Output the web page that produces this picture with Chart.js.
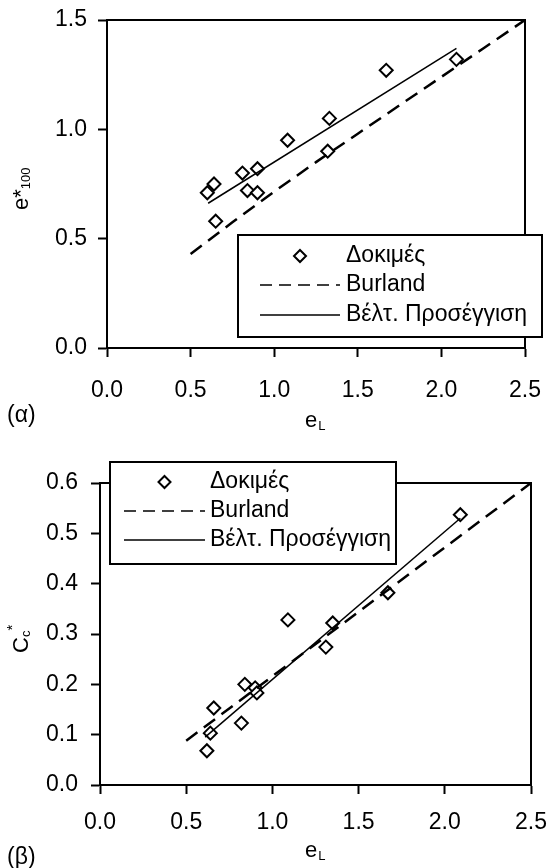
<!DOCTYPE html>
<html>
<head>
<meta charset="utf-8">
<script src="https://cdn.jsdelivr.net/npm/chart.js@4.4.1/dist/chart.umd.min.js"></script>
<style>
  html, body { margin: 0; padding: 0; background: #fff; }
  .panel { position: absolute; left: 0; width: 550px; height: 434px; }
  #panelA { top: 0; }
  #panelB { top: 434px; }
</style>
</head>
<body>
<div class="panel" id="panelA"><canvas id="chartA" width="550" height="434"></canvas></div>
<div class="panel" id="panelB"><canvas id="chartB" width="550" height="434"></canvas></div>
<script>
  // (α) e*100 against e_L
  const testsA_eL = [0.60, 0.64, 0.65, 0.81, 0.84, 0.90, 0.90, 1.08, 1.32, 1.33, 1.67, 2.09];
  const testsA_e100 = [0.71, 0.75, 0.58, 0.80, 0.72, 0.82, 0.71, 0.95, 0.90, 1.05, 1.27, 1.32];
  const burlandA_eL = [0.5, 0.75, 1.0, 1.25, 1.5, 1.75, 2.0, 2.25, 2.5];
  const burlandA_e100 = [0.43, 0.575, 0.715, 0.85, 0.98, 1.11, 1.24, 1.37, 1.50];
  const fitA_eL = [0.605, 2.09];
  const fitA_e100 = [0.662, 1.37];

  // (β) Cc* against e_L
  const testsB_eL = [0.62, 0.64, 0.66, 0.82, 0.84, 0.90, 0.91, 1.09, 1.31, 1.35, 1.67, 2.09];
  const testsB_cc = [0.068, 0.103, 0.153, 0.123, 0.200, 0.193, 0.183, 0.328, 0.274, 0.322, 0.382, 0.537];
  const burlandB_eL = [0.5, 2.5];
  const burlandB_cc = [0.088, 0.60];
  const fitB_eL = [0.61, 2.09];
  const fitB_cc = [0.095, 0.53];

  const xTicks = [0.0, 0.5, 1.0, 1.5, 2.0, 2.5];
  const yTicksA = [0.0, 0.5, 1.0, 1.5];
  const yTicksB = [0.0, 0.1, 0.2, 0.3, 0.4, 0.5, 0.6];

  const legendLabels = ['Δοκιμές', 'Burland', 'Βέλτ. Προσέγγιση'];

  const FONT = "'Liberation Sans', Arial, sans-serif";

  function pts(xs, ys) {
    return xs.map((x, i) => ({ x: x, y: ys[i] }));
  }

  function diamond(ctx, x, y, r) {
    ctx.beginPath();
    ctx.moveTo(x, y - r);
    ctx.lineTo(x + r, y);
    ctx.lineTo(x, y + r);
    ctx.lineTo(x - r, y);
    ctx.closePath();
    ctx.fillStyle = '#fff';
    ctx.fill();
    ctx.lineWidth = 2;
    ctx.strokeStyle = '#000';
    ctx.stroke();
  }

  // box around the plot area, under the data
  const framePlugin = {
    id: 'frame',
    beforeDatasetsDraw(chart) {
      const a = chart.chartArea;
      const ctx = chart.ctx;
      ctx.save();
      ctx.strokeStyle = '#000';
      ctx.lineWidth = 2;
      ctx.strokeRect(a.left, a.top, a.right - a.left, a.bottom - a.top);
      ctx.restore();
    }
  };

  // legend box + axis titles + panel letter
  function extrasPlugin(opt) {
    return {
      id: 'extras',
      afterDraw(chart) {
        const ctx = chart.ctx;
        const lg = opt.legend;
        ctx.save();

        ctx.fillStyle = '#fff';
        ctx.fillRect(lg.x, lg.y, lg.w, lg.h);
        ctx.strokeStyle = '#000';
        ctx.lineWidth = 2;
        ctx.strokeRect(lg.x, lg.y, lg.w, lg.h);

        const mid = (lg.s0 + lg.s1) / 2;
        diamond(ctx, mid, lg.rows[0], 6);

        ctx.strokeStyle = '#000';
        ctx.lineWidth = 1.5;
        ctx.setLineDash([12, 7]);
        ctx.beginPath();
        ctx.moveTo(lg.s0, lg.rows[1]);
        ctx.lineTo(lg.s1, lg.rows[1]);
        ctx.stroke();
        ctx.setLineDash([]);
        ctx.beginPath();
        ctx.moveTo(lg.s0, lg.rows[2]);
        ctx.lineTo(lg.s1, lg.rows[2]);
        ctx.stroke();

        ctx.fillStyle = '#000';
        ctx.font = '23px ' + FONT;
        ctx.textBaseline = 'middle';
        ctx.textAlign = 'left';
        legendLabels.forEach((t, i) => ctx.fillText(t, lg.tx, lg.rows[i]));

        // x title: e with subscript L
        ctx.textBaseline = 'alphabetic';
        ctx.font = '22px ' + FONT;
        ctx.fillText('e', opt.xTitle.x, opt.xTitle.y);
        const ew = ctx.measureText('e').width;
        ctx.font = '13px ' + FONT;
        ctx.fillText('L', opt.xTitle.x + ew + 1, opt.xTitle.y + 3);

        // y title, rotated
        ctx.save();
        ctx.translate(opt.yTitle.x, opt.yTitle.y);
        ctx.rotate(-Math.PI / 2);
        let pos = 0;
        opt.yTitle.parts.forEach(p => {
          ctx.font = p.size + 'px ' + FONT;
          ctx.fillText(p.t, pos, p.dy);
          pos += ctx.measureText(p.t).width + (p.gap || 0);
        });
        ctx.restore();

        // panel letter
        ctx.font = '23px ' + FONT;
        ctx.textBaseline = 'middle';
        ctx.fillText(opt.letter.t, opt.letter.x, opt.letter.y);

        ctx.restore();
      }
    };
  }

  function makeChart(id, o) {
    const ctx = document.getElementById(id).getContext('2d');
    return new Chart(ctx, {
      type: 'scatter',
      data: {
        datasets: [
          {
            label: legendLabels[0],
            data: pts(o.tx, o.ty),
            pointStyle: 'rectRot',
            pointRadius: 6.5,
            pointBorderWidth: 2,
            pointBackgroundColor: '#fff',
            pointBorderColor: '#000',
            showLine: false,
            order: 3
          },
          {
            label: legendLabels[1],
            data: pts(o.bx, o.by),
            showLine: true,
            borderColor: '#000',
            borderWidth: 2.5,
            borderDash: [14, 8],
            pointRadius: 0,
            tension: 0,
            order: 2
          },
          {
            label: legendLabels[2],
            data: pts(o.fx, o.fy),
            showLine: true,
            borderColor: '#000',
            borderWidth: 1.5,
            pointRadius: 0,
            tension: 0,
            order: 1
          }
        ]
      },
      options: {
        responsive: false,
        animation: false,
        devicePixelRatio: 1,
        layout: { padding: o.padding },
        plugins: { legend: { display: false }, tooltip: { enabled: false } },
        scales: {
          x: {
            type: 'linear',
            min: 0,
            max: 2.5,
            afterBuildTicks: s => { s.ticks = xTicks.map(v => ({ value: v })); },
            afterFit: s => {
              s.height = o.xHeight;
              s.paddingLeft = 0;
              s.paddingRight = 0;
            },
            ticks: {
              color: '#000',
              font: { family: FONT, size: 23 },
              padding: o.xPad,
              maxRotation: 0,
              callback: v => v.toFixed(1)
            },
            grid: { drawOnChartArea: false, drawTicks: true, tickLength: 9, tickColor: '#000', tickWidth: 2 },
            border: { display: true, color: '#000', width: 2 }
          },
          y: {
            type: 'linear',
            min: o.yMin,
            max: o.yMax,
            afterBuildTicks: s => { s.ticks = o.yTicks.map(v => ({ value: v })); },
            afterFit: s => {
              s.width = o.yWidth;
              s.paddingTop = 0;
              s.paddingBottom = 0;
            },
            ticks: {
              color: '#000',
              font: { family: FONT, size: 23 },
              padding: o.yPad,
              callback: v => v.toFixed(1)
            },
            grid: { drawOnChartArea: false, drawTicks: true, tickLength: 9, tickColor: '#000', tickWidth: 2 },
            border: { display: true, color: '#000', width: 2 }
          }
        }
      },
      plugins: [framePlugin, extrasPlugin(o.extras)]
    });
  }

  makeChart('chartA', {
    tx: testsA_eL, ty: testsA_e100,
    bx: burlandA_eL, by: burlandA_e100,
    fx: fitA_eL, fy: fitA_e100,
    yMin: 0, yMax: 1.5, yTicks: yTicksA,
    padding: { left: 0, top: 20, right: 25, bottom: 0 },
    xHeight: 86, yWidth: 107, xPad: 20, yPad: 11,
    extras: {
      legend: { x: 238, y: 235, w: 304, h: 102, rows: [256, 285, 315], s0: 260, s1: 340, tx: 346 },
      xTitle: { x: 305, y: 427 },
      yTitle: { x: 28, y: 210, parts: [
        { t: 'e*', size: 22, dy: 0 },
        { t: '100', size: 13, dy: 2 }
      ] },
      letter: { t: '(α)', x: 7, y: 416 }
    }
  });

  makeChart('chartB', {
    tx: testsB_eL, ty: testsB_cc,
    bx: burlandB_eL, by: burlandB_cc,
    fx: fitB_eL, fy: fitB_cc,
    yMin: 0, yMax: 0.6, yTicks: yTicksB,
    padding: { left: 0, top: 49, right: 19, bottom: 0 },
    xHeight: 83, yWidth: 100, xPad: 15, yPad: 13,
    extras: {
      legend: { x: 110, y: 28, w: 286, h: 102, rows: [48, 77, 106], s0: 124, s1: 205, tx: 210 },
      xTitle: { x: 305, y: 423 },
      yTitle: { x: 28, y: 219, parts: [
        { t: 'C', size: 22, dy: 0 },
        { t: 'c', size: 13, dy: 2 },
        { t: '*', size: 15, dy: -11 }
      ] },
      letter: { t: '(β)', x: 7, y: 424 }
    }
  });
</script>
</body>
</html>
